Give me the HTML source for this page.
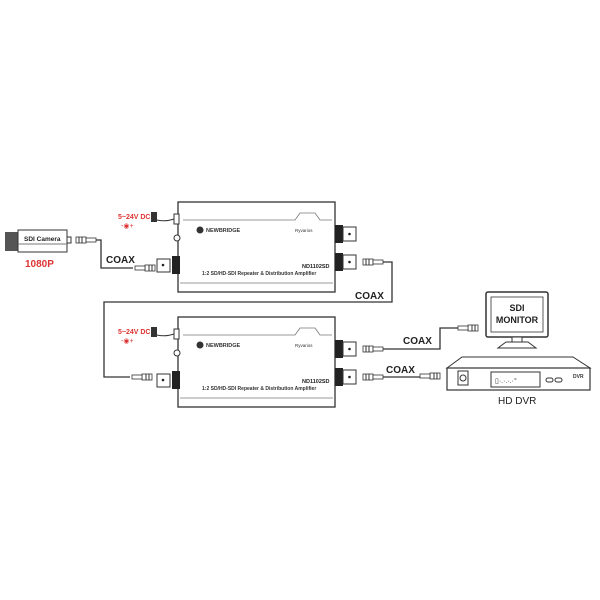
<!DOCTYPE html><html><head><style>body{margin:0;background:#fff}svg{display:block}</style></head><body>
<svg width="600" height="600" viewBox="0 0 600 600" xmlns="http://www.w3.org/2000/svg" font-family="Liberation Sans, Arial, sans-serif">
<defs>
<g id="dev">
 <rect x="178" y="202" width="157" height="90" fill="#fff" stroke="#333" stroke-width="1.3"/>
 <path d="M183 220 H295 L300 213 H315 L320 220 H332" fill="none" stroke="#777" stroke-width="0.8"/>
 <line x1="180" y1="283" x2="333" y2="283" stroke="#777" stroke-width="0.8"/>
 <rect x="174" y="214" width="5" height="10" fill="#fff" stroke="#333"/>
 <circle cx="177" cy="238" r="3" fill="#fff" stroke="#333"/>
 <rect x="172" y="256" width="8" height="18" fill="#222"/>
 <rect x="157" y="259" width="13" height="13" fill="#fff" stroke="#333"/>
 <circle cx="163" cy="265" r="1.3" fill="#222"/>
 <circle cx="200" cy="230" r="3.5" fill="#333"/>
 <text x="206" y="232" font-size="5.5" font-weight="bold" fill="#333">NEWBRIDGE</text>
 <text x="295" y="232" font-size="4.5" fill="#333">Ryvarios</text>
 <text x="302" y="268" font-size="5.5" font-weight="bold" fill="#222">ND1102SD</text>
 <text x="202" y="275" font-size="5" font-weight="bold" fill="#333">1:2 SD/HD-SDI Repeater &amp; Distribution Amplifier</text>
 <rect x="335" y="225" width="8" height="18" fill="#222"/>
 <rect x="343" y="227" width="13" height="14" fill="#fff" stroke="#333"/>
 <circle cx="349.5" cy="234" r="1.3" fill="#222"/>
 <rect x="335" y="253" width="8" height="18" fill="#222"/>
 <rect x="343" y="255" width="13" height="14" fill="#fff" stroke="#333"/>
 <circle cx="349.5" cy="262" r="1.3" fill="#222"/>
 <text x="118" y="219" font-size="7" font-weight="bold" fill="#d33">5~24V DC</text>
 <text x="121" y="228" font-size="7" fill="#d33">-◉+</text>
 <path d="M151 212 h6 v10 h-6z" fill="#333"/>
 <path d="M157 220 Q165 222 174 219" fill="none" stroke="#333"/>
</g>
<g id="bnc"><rect x="0" y="-3" width="10" height="6" fill="#fff" stroke="#333" stroke-width="0.8"/><line x1="3" y1="-3" x2="3" y2="3" stroke="#333"/><line x1="6" y1="-3" x2="6" y2="3" stroke="#333"/><rect x="10" y="-2" width="10" height="4" fill="#fff" stroke="#333" stroke-width="0.8"/></g>
</defs>
<use href="#dev"/>
<use href="#dev" y="115"/>
<!-- camera -->
<rect x="5" y="232" width="13" height="19" fill="#555"/>
<rect x="18" y="230" width="49" height="22" fill="#fff" stroke="#333"/>
<line x1="18" y1="244" x2="67" y2="244" stroke="#777"/>
<rect x="67" y="237" width="4" height="6" fill="#fff" stroke="#333"/>
<text x="24" y="241" font-size="6.5" font-weight="bold" fill="#222">SDI Camera</text>
<text x="25" y="267" font-size="10" font-weight="bold" fill="#d33">1080P</text>
<use href="#bnc" x="76" y="240"/>
<path d="M96 240 H101 V268 H133" fill="none" stroke="#333" stroke-width="1.3"/>
<use href="#bnc" transform="translate(155 268) scale(-1 1)"/>
<text x="106" y="263" font-size="10" font-weight="bold" fill="#222">COAX</text>
<!-- cable 1 -> 2 -->
<use href="#bnc" x="363" y="262"/>
<path d="M383 262 H392 V302 H104 V377 H130" fill="none" stroke="#333" stroke-width="1.3"/>
<use href="#bnc" transform="translate(152 377) scale(-1 1)"/>
<text x="355" y="299" font-size="10" font-weight="bold" fill="#222">COAX</text>
<!-- to monitor -->
<use href="#bnc" x="363" y="349"/>
<path d="M383 349 H440 V328 H458" fill="none" stroke="#333" stroke-width="1.3"/>
<use href="#bnc" transform="translate(478 328) scale(-1 1)"/>
<text x="403" y="344" font-size="10" font-weight="bold" fill="#222">COAX</text>
<use href="#bnc" x="363" y="377"/>
<path d="M383 377 H420" fill="none" stroke="#333" stroke-width="1.3"/>
<use href="#bnc" transform="translate(440 376) scale(-1 1)"/>
<text x="386" y="373" font-size="10" font-weight="bold" fill="#222">COAX</text>
<!-- monitor -->
<rect x="486" y="292" width="62" height="45" rx="2" fill="#fff" stroke="#333" stroke-width="1.5"/>
<rect x="491" y="297" width="52" height="35" fill="#fff" stroke="#333" stroke-width="0.8"/>
<text x="517" y="311" font-size="9" font-weight="bold" text-anchor="middle" fill="#222">SDI</text>
<text x="517" y="323" font-size="9" font-weight="bold" text-anchor="middle" fill="#222">MONITOR</text>
<rect x="512" y="337" width="10" height="5" fill="#fff" stroke="#333"/>
<path d="M498 348 L506 342 H528 L536 348 Z" fill="#fff" stroke="#333"/>
<!-- DVR -->
<path d="M447 368 L462 357 H573 L590 368 Z" fill="#fff" stroke="#333"/>
<rect x="447" y="368" width="143" height="22" fill="#fff" stroke="#333" stroke-width="1.2"/>
<rect x="458" y="371" width="10" height="14" fill="#fff" stroke="#333"/>
<circle cx="463" cy="378" r="3" fill="none" stroke="#333"/>
<rect x="491" y="372" width="49" height="15" fill="#fff" stroke="#333"/>
<text x="495" y="383" font-size="7" fill="#333">▯·.·.·.·°</text>
<rect x="546" y="378" width="7" height="4" rx="2" fill="none" stroke="#333"/>
<rect x="555" y="378" width="7" height="4" rx="2" fill="none" stroke="#333"/>
<text x="573" y="378" font-size="5" font-weight="bold" fill="#333">DVR</text>
<text x="498" y="404" font-size="10" fill="#222">HD DVR</text>
</svg>
</body></html>
